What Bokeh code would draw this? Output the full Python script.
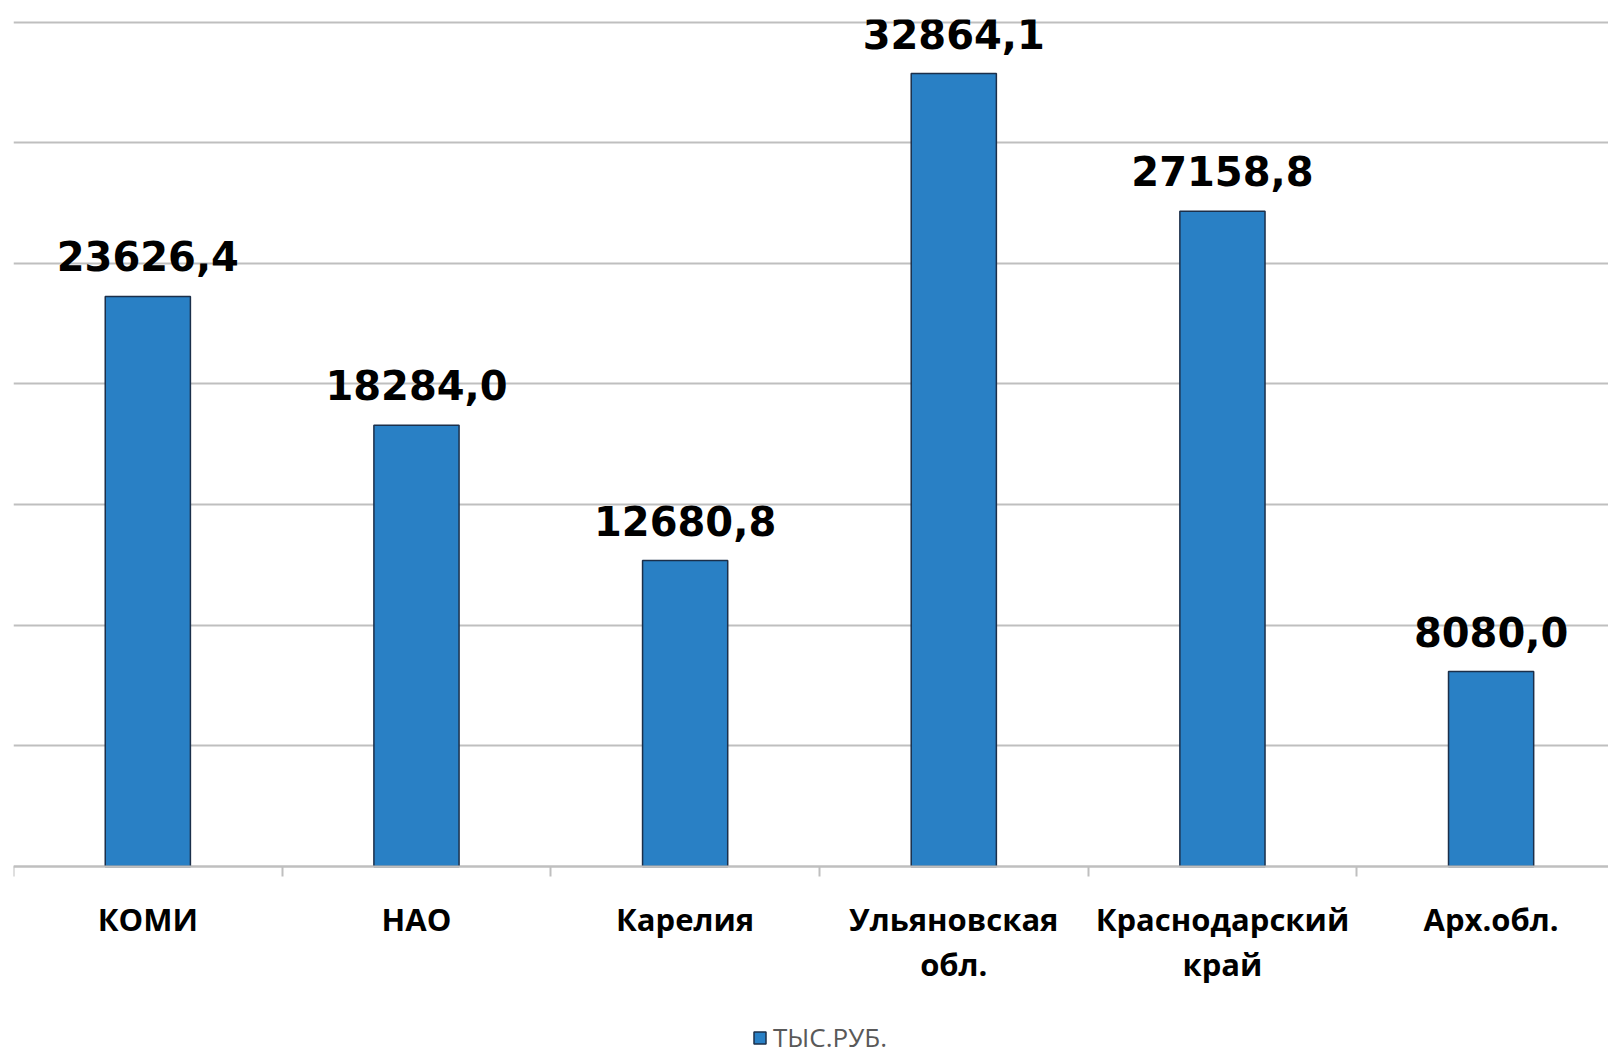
from bokeh.plotting import figure
from bokeh.models import (ColumnDataSource, Range1d, FixedTicker, Grid, LinearAxis,
                          Legend, LegendItem)
from bokeh.core.properties import value
from bokeh.embed import file_html
from bokeh.resources import INLINE

categories = ["КОМИ", "НАО", "Карелия", "Ульяновская\nобл.", "Краснодарский\nкрай", "Арх.обл."]
values = [23626.4, 18284.0, 12680.8, 32864.1, 27158.8, 8080.0]
series_name = "ТЫС.РУБ."
y_ticks = [0, 5000, 10000, 15000, 20000, 25000, 30000, 35000]

centers = [i + 0.5 for i in range(len(categories))]
labels = [f"{v:.1f}".replace(".", ",") for v in values]
src = ColumnDataSource(dict(x=centers, top=values, label=labels))

# frame covers the whole canvas height; value 0 sits where the category axis is drawn
p = figure(frame_width=1595, frame_height=1038, output_backend="svg", toolbar_location=None,
           x_range=Range1d(0, 5.937), y_range=Range1d(-7915, 35104),
           x_axis_location=None, y_axis_location=None,
           min_border_left=13, min_border_right=0, min_border_top=19, min_border_bottom=0)
p.outline_line_color = None
p.grid.visible = False

grid = Grid(dimension=1, ticker=FixedTicker(ticks=y_ticks),
            grid_line_color="#BFBFBF", grid_line_width=2)
p.add_layout(grid)

bars = p.vbar(x="x", top="top", width=0.317, bottom=0, source=src,
              fill_color="#2980C5", line_color="#1B2F4A", line_width=1.5)

p.text(x="x", y="top", text="label", source=src, y_offset=-40,
       text_align="center", text_baseline="alphabetic",
       text_font=value("DejaVu Sans"), text_font_style="bold",
       text_font_size="40px", text_color="#000000")

xaxis = LinearAxis(ticker=FixedTicker(ticks=centers, minor_ticks=list(range(len(categories) + 1))),
                   major_label_overrides={c: lab for c, lab in zip(centers, categories)},
                   fixed_location=0)
xaxis.axis_line_color = "#BFBFBF"
xaxis.axis_line_width = 2
xaxis.major_tick_line_color = None
xaxis.major_tick_out = 0
xaxis.major_tick_in = 0
xaxis.minor_tick_line_color = "#BFBFBF"
xaxis.minor_tick_line_width = 2
xaxis.minor_tick_out = 10
xaxis.minor_tick_in = 0
xaxis.major_label_standoff = 21
xaxis.major_label_text_font = "Open Sans"
xaxis.major_label_text_font_style = "bold"
xaxis.major_label_text_font_size = "31px"
xaxis.major_label_text_color = "#000000"
xaxis.major_label_text_line_height = 1.09
p.add_layout(xaxis, "below")

legend = Legend(items=[LegendItem(label=series_name, renderers=[bars])],
                orientation="horizontal", location=(739, 2),
                border_line_color=None, background_fill_alpha=0,
                label_text_font="Open Sans", label_text_font_size="26px",
                label_text_color="#595959", glyph_width=15, glyph_height=15,
                label_standoff=6, padding=0, margin=0, spacing=0)
p.add_layout(legend, "center")

open("out.html", "w").write(file_html(p, INLINE))
